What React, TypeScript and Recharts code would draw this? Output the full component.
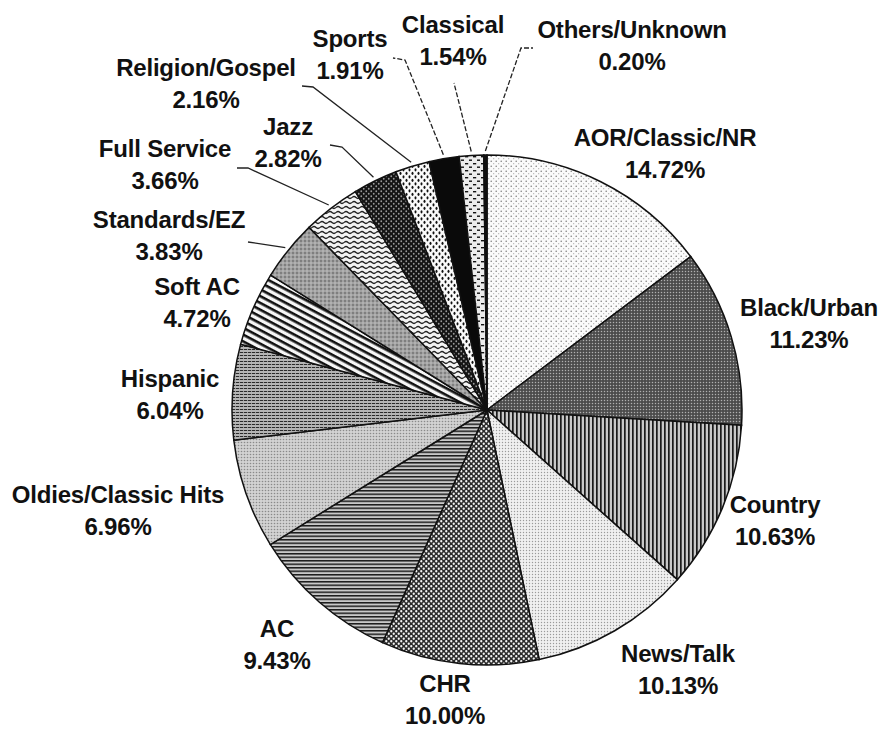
import React from "react";
import { PieChart, Pie, Cell } from "recharts";

const categories = [
  "AOR/Classic/NR",
  "Black/Urban",
  "Country",
  "News/Talk",
  "CHR",
  "AC",
  "Oldies/Classic Hits",
  "Hispanic",
  "Soft AC",
  "Standards/EZ",
  "Full Service",
  "Jazz",
  "Religion/Gospel",
  "Sports",
  "Classical",
  "Others/Unknown",
];

const shares = [14.72, 11.23, 10.63, 10.13, 10.0, 9.43, 6.96, 6.04, 4.72, 3.83, 3.66, 2.82, 2.16, 1.91, 1.54, 0.2];

const patternIds = [
  "pAOR", "pBlack", "pCountry", "pNews", "pCHR", "pAC", "pOldies", "pHisp",
  "pSoftAC", "pStd", "pFull", "pJazz", "pRel", "pSports", "pClass", "pOther",
];

// label placement relative to pie centre: text centre x offset, first baseline y offset
const labelOffsets: [number, number][] = [
  [178, -264], [322, -94], [288, 103], [191, 252], [-42, 282], [-210, 227],
  [-369, 93], [-317, -23], [-290, -115], [-318, -182], [-322, -253], [-199, -275],
  [-281, -334], [-137, -363], [-34, -377], [145, -372],
];

// leader line bend points relative to pie centre (null = no leader)
const leaders: ([number, number][] | null)[] = [
  null, null, null, null, null, null, null, null, null,
  [[-239, -168]],
  [[-239, -242], [-250, -242]],
  [[-145, -263], [-157, -265]],
  [[-174, -323], [-185, -324]],
  [[-82, -350], [-94, -352]],
  [[-33, -327]],
  [[34, -362], [46, -362]],
];
const dashedLeaders = [13, 14, 15];

const data = categories.map((name, i) => ({ name, value: shares[i] }));

const RAD = Math.PI / 180;
const FONT = "'Liberation Sans', Arial, Helvetica, sans-serif";

const renderLabel = (props: any) => {
  const { cx, cy, midAngle, outerRadius, index, value, name } = props;
  const [dx, dy] = labelOffsets[index];
  const lx = cx + dx;
  const ly = cy + dy;
  const lead = leaders[index];
  let path: string | null = null;
  if (lead) {
    const r = outerRadius + 4;
    const sx = cx + r * Math.cos(-midAngle * RAD);
    const sy = cy + r * Math.sin(-midAngle * RAD);
    path = `M${sx},${sy}` + lead.map(([px, py]) => ` L${cx + px},${cy + py}`).join("");
  }
  return (
    <g key={`lbl-${index}`}>
      {path && (
        <path
          d={path}
          fill="none"
          stroke="#222"
          strokeWidth={1.3}
          strokeDasharray={dashedLeaders.includes(index) ? "5 2" : undefined}
        />
      )}
      <text
        x={lx}
        y={ly}
        textAnchor="middle"
        fontFamily={FONT}
        fontWeight="bold"
        fontSize={24}
        letterSpacing={-0.2}
        fill="#111"
      >
        {name}
      </text>
      <text
        x={lx}
        y={ly + 32}
        textAnchor="middle"
        fontFamily={FONT}
        fontWeight="bold"
        fontSize={24}
        letterSpacing={-0.2}
        fill="#111"
      >
        {`${Number(value).toFixed(2)}%`}
      </text>
    </g>
  );
};

export default function App() {
  return (
    <div style={{ position: "absolute", left: 0, top: 0, width: 881, height: 729, background: "#fff" }}>
      <PieChart width={881} height={729} margin={{ top: 0, right: 0, bottom: 0, left: 0 }}>
        <defs>
          <pattern id="pAOR" width="5" height="5" patternUnits="userSpaceOnUse">
            <rect width="5" height="5" fill="#fbfbfb" />
            <circle cx="1.2" cy="1.2" r="0.75" fill="#777" />
            <circle cx="3.7" cy="3.7" r="0.6" fill="#aaa" />
          </pattern>
          <pattern id="pBlack" width="3" height="3" patternUnits="userSpaceOnUse">
            <rect width="3" height="3" fill="#4c4c4c" />
            <circle cx="1.5" cy="1.5" r="0.75" fill="#b0b0b0" />
          </pattern>
          <pattern id="pCountry" width="4" height="4" patternUnits="userSpaceOnUse">
            <rect width="4" height="4" fill="#c8c8c8" />
            <rect x="0" width="1.7" height="4" fill="#1a1a1a" />
          </pattern>
          <pattern id="pNews" width="3" height="3" patternUnits="userSpaceOnUse">
            <rect width="3" height="3" fill="#f0f0f0" />
            <circle cx="1.5" cy="1.5" r="0.7" fill="#9a9a9a" />
          </pattern>
          <pattern id="pCHR" width="5" height="5" patternUnits="userSpaceOnUse">
            <rect width="5" height="5" fill="#2a2a2a" />
            <circle cx="1.25" cy="1.25" r="1.15" fill="#f4f4f4" />
            <circle cx="3.75" cy="3.75" r="1.15" fill="#f4f4f4" />
          </pattern>
          <pattern id="pAC" width="4" height="3.5" patternUnits="userSpaceOnUse">
            <rect width="4" height="3.5" fill="#c8c8c8" />
            <rect y="0" width="4" height="1.5" fill="#1a1a1a" />
          </pattern>
          <pattern id="pOldies" width="3" height="3" patternUnits="userSpaceOnUse">
            <rect width="3" height="3" fill="#d2d2d2" />
            <circle cx="1.5" cy="1.5" r="0.8" fill="#8a8a8a" />
          </pattern>
          <pattern id="pHisp" width="4" height="3" patternUnits="userSpaceOnUse">
            <rect width="4" height="3" fill="#b4b4b4" />
            <rect y="1" width="4" height="1" fill="#2a2a2a" />
            <rect x="3" y="1" width="1" height="1" fill="#999" />
          </pattern>
          <pattern id="pSoftAC" width="6" height="6" patternUnits="userSpaceOnUse" patternTransform="rotate(28)">
            <rect width="6" height="6" fill="#f6f6f6" />
            <rect y="0" width="6" height="2.6" fill="#111" />
          </pattern>
          <pattern id="pStd" width="4" height="4" patternUnits="userSpaceOnUse">
            <rect width="4" height="4" fill="#a2a2a2" />
            <circle cx="1" cy="1" r="0.9" fill="#6e6e6e" />
            <circle cx="3" cy="3" r="0.8" fill="#c4c4c4" />
          </pattern>
          <pattern id="pFull" width="8" height="5" patternUnits="userSpaceOnUse">
            <rect width="8" height="5" fill="#f4f4f4" />
            <path d="M0 2.5 Q2 0.6 4 2.5 T8 2.5" fill="none" stroke="#222" strokeWidth="1.3" />
          </pattern>
          <pattern id="pJazz" width="5" height="5" patternUnits="userSpaceOnUse">
            <rect width="5" height="5" fill="#141414" />
            <circle cx="1.25" cy="1.25" r="0.9" fill="#9a9a9a" />
            <circle cx="3.75" cy="3.75" r="0.9" fill="#9a9a9a" />
          </pattern>
          <pattern id="pRel" width="6" height="7" patternUnits="userSpaceOnUse">
            <rect width="6" height="7" fill="#fafafa" />
            <ellipse cx="1.5" cy="1.8" rx="1" ry="1.6" fill="#111" />
            <ellipse cx="4.5" cy="5.3" rx="1" ry="1.6" fill="#111" />
          </pattern>
          <pattern id="pSports" width="4" height="4" patternUnits="userSpaceOnUse">
            <rect width="4" height="4" fill="#0a0a0a" />
          </pattern>
          <pattern id="pClass" width="8" height="7" patternUnits="userSpaceOnUse">
            <rect width="8" height="7" fill="#ececec" />
            <rect x="1" y="2" width="3.2" height="1.4" fill="#111" />
            <rect x="5" y="5.5" width="3" height="1.4" fill="#111" />
          </pattern>
          <pattern id="pOther" width="4" height="4" patternUnits="userSpaceOnUse">
            <rect width="4" height="4" fill="#111" />
          </pattern>
        </defs>
        <Pie
          data={data}
          dataKey="value"
          nameKey="name"
          cx={487}
          cy={410}
          outerRadius={255}
          innerRadius={0}
          startAngle={90}
          endAngle={-270}
          stroke="#111"
          strokeWidth={1.5}
          label={renderLabel}
          labelLine={false}
          isAnimationActive={false}
        >
          {data.map((d, i) => (
            <Cell key={d.name} fill={`url(#${patternIds[i]})`} />
          ))}
        </Pie>
      </PieChart>
    </div>
  );
}
